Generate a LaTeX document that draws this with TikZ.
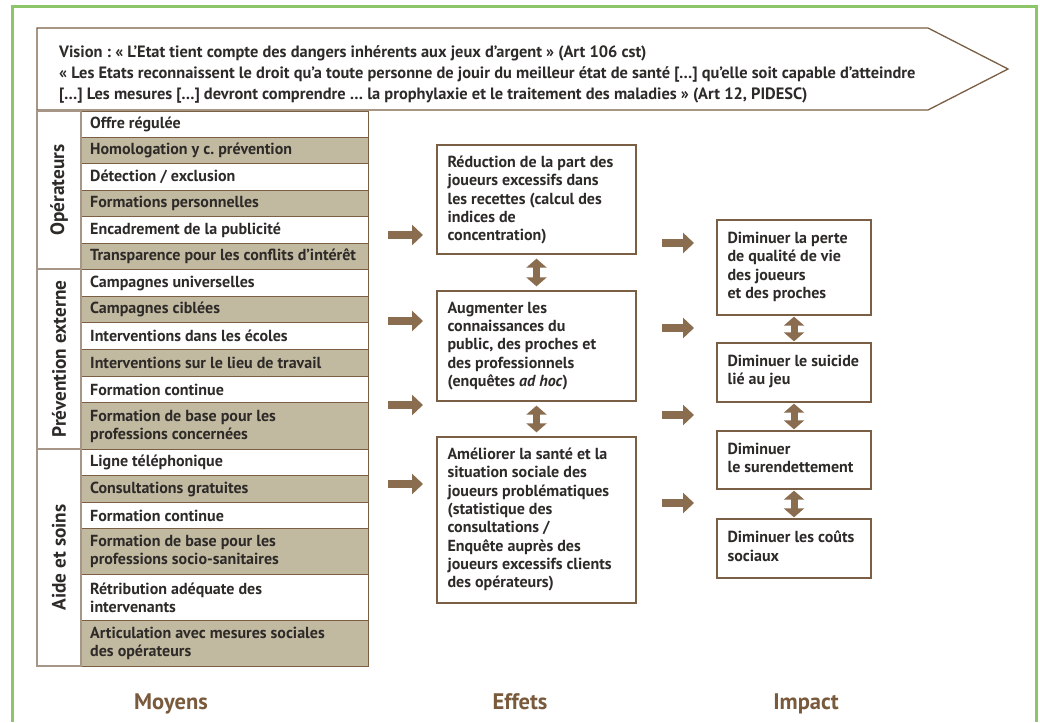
\documentclass[tikz,border=0pt]{standalone}
\usepackage{fontspec}
\setmainfont{PT Sans}
\frenchspacing
\usetikzlibrary{arrows.meta,calc}
\definecolor{brn}{RGB}{122,95,68}
\definecolor{arr}{RGB}{138,108,78}
\definecolor{shade}{RGB}{193,185,160}
\definecolor{txt}{RGB}{45,42,40}
\definecolor{grn}{RGB}{141,198,104}
\definecolor{lbl}{RGB}{122,90,60}
\definecolor{edge}{RGB}{165,150,135}
\tikzset{
  itembox/.style={draw=brn, line width=1.2pt, minimum width=287pt, inner sep=0pt, anchor=north west},
  itemtext/.style={anchor=west, inner sep=0pt, align=left, font=\bfseries\fontsize{16}{17.7}\selectfont},
  cat/.style={draw=edge, line width=1.2pt, fill=white, rotate=90, minimum height=44pt, inner sep=0pt, font=\bfseries\fontsize{19.3}{22}\selectfont},
  ebox/.style={draw=brn, line width=1.3pt, fill=white, inner sep=0pt},
  etext/.style={anchor=north west, inner sep=0pt, align=left, font=\bfseries\fontsize{16}{18.3}\selectfont},
  harr/.style={draw=arr, line width=7.5pt, -{Triangle[length=11pt,width=20pt]}},
  dbl/.style={draw=arr, line width=7pt, {Triangle[length=9pt,width=20pt]}-{Triangle[length=9pt,width=20pt]}},
  colhead/.style={text=lbl, anchor=base, inner sep=0pt, font=\bfseries\fontsize{22.5}{26}\selectfont}
}
\begin{document}
\begin{tikzpicture}[x=1pt,y=-1pt,text=txt]
\useasboundingbox (0,0) rectangle (1040,722);
\fill[white] (0,0) rectangle (1040,722);
% green frame
\draw[grn, line width=3pt] (12,722) -- (12,7) -- (1036,7) -- (1036,722);
% vision banner
\draw[brn, line width=1.3pt, fill=white] (37,28) -- (928,28) -- (1008,69) -- (928,110) -- (37,110) -- cycle;
\node[anchor=north west, inner sep=0pt, align=left, font=\bfseries\fontsize{16.4}{21}\selectfont] (vision) at (59,45.5)
 {Vision : « L’Etat tient compte des dangers inhérents aux jeux d’argent » (Art 106 cst)\\
  « Les Etats reconnaissent le droit qu’a toute personne de jouir du meilleur état de santé […] qu’elle soit capable d’atteindre\\
  {[…]} Les mesures […] devront comprendre … la prophylaxie et le traitement des maladies » (Art 12, PIDESC)};
% rows
\foreach \n/\t/\b/\f/\s in {
 r1/111/137/white/{Offre régulée},
 r2/137/163/shade/{Homologation y c. prévention},
 r3/163/190/white/{Détection / exclusion},
 r4/190/216/shade/{Formations personnelles},
 r5/216/243/white/{Encadrement de la publicité},
 r6/243/269/shade/{Transparence pour les conflits d’intérêt},
 r7/269/296/white/{Campagnes universelles},
 r8/296/322/shade/{Campagnes ciblées},
 r9/322/349/white/{Interventions dans les écoles},
 r10/349/376/shade/{Interventions sur le lieu de travail},
 r11/376/402/white/{Formation continue},
 r12/402/449/shade/{Formation de base pour les\\professions concernées},
 r13/449/475/white/{Ligne téléphonique},
 r14/475/502/shade/{Consultations gratuites},
 r15/502/528/white/{Formation continue},
 r16/528/574/shade/{Formation de base pour les\\professions socio-sanitaires},
 r17/574/620/white/{Rétribution adéquate des\\intervenants},
 r18/620/666/shade/{Articulation avec mesures sociales\\des opérateurs}}
{\node[itembox, fill=\f, minimum height={\b-\t}] (\n) at (81,\t) {};
 \node[itemtext] (\n t) at ([xshift=9pt]\n.west) {\s};}
% categories
\node[cat, minimum width=158pt] (c1) at (59,190) {Opérateurs};
\node[cat, minimum width=180pt] (c2) at (59,359) {Prévention externe};
\node[cat, minimum width=217pt] (c3) at (59,557.5) {Aide et soins};
% effect boxes
\node[ebox, minimum width=199pt, minimum height=109pt] (e1) at (536.5,199.5) {};
\node[ebox, minimum width=199pt, minimum height=110pt] (e2) at (536.5,346) {};
\node[ebox, minimum width=199pt, minimum height=166pt] (e3) at (536.5,520) {};
\node[etext] (e1t) at ([xshift=11pt,yshift=-11.5pt]e1.north west) {Réduction de la part des\\joueurs excessifs dans\\les recettes (calcul des\\indices de\\concentration)};
\node[etext] (e2t) at ([xshift=11pt,yshift=-11.5pt]e2.north west) {Augmenter les\\connaissances du\\public, des proches et\\des professionnels\\(enquêtes \textit{ad hoc})};
\node[etext] (e3t) at ([xshift=11pt,yshift=-11.5pt]e3.north west) {Améliorer la santé et la\\situation sociale des\\joueurs problématiques\\(statistique des\\consultations /\\Enquête auprès des\\joueurs excessifs clients\\des opérateurs)};
% impact boxes
\node[ebox, minimum width=154pt, minimum height=95pt] (i1) at (794,267.5) {};
\node[ebox, minimum width=154pt, minimum height=59pt] (i2) at (794,372.5) {};
\node[ebox, minimum width=154pt, minimum height=58pt] (i3) at (794,460) {};
\node[ebox, minimum width=154pt, minimum height=59pt] (i4) at (794,548.5) {};
\node[etext] (i1t) at ([xshift=11pt,yshift=-12.5pt]i1.north west) {Diminuer la perte\\de qualité de vie\\des joueurs\\et des proches};
\node[etext] (i2t) at ([xshift=11pt,yshift=-12.5pt]i2.north west) {Diminuer le suicide\\lié au jeu};
\node[etext] (i3t) at ([xshift=11pt,yshift=-12.5pt]i3.north west) {Diminuer\\le surendettement};
\node[etext] (i4t) at ([xshift=11pt,yshift=-12.5pt]i4.north west) {Diminuer les coûts\\sociaux};
% double arrows
\draw[dbl] ([yshift=-4pt]e1.south) -- ([yshift=4pt]e2.north);
\draw[dbl] ([yshift=-4pt]e2.south) -- ([yshift=4pt]e3.north);
\draw[dbl] ([yshift=-1pt]i1.south) -- ([yshift=1pt]i2.north);
\draw[dbl] ([yshift=-1pt]i2.south) -- ([yshift=1pt]i3.north);
\draw[dbl] ([yshift=-1pt]i3.south) -- ([yshift=1pt]i4.north);
% left arrows
\foreach \k/\y in {1/235,2/321,3/405,4/484}{
  \coordinate (la\k s) at (388,\y);
  \coordinate (la\k e) at (423,\y);
  \draw[harr] (la\k s) -- (la\k e);
}
% right arrows
\foreach \k/\y in {1/243,2/328,3/415,4/503}{
  \coordinate (ra\k s) at (662,\y);
  \coordinate (ra\k e) at (694,\y);
  \draw[harr] (ra\k s) -- (ra\k e);
}
% column headings
\node[colhead] (moyens) at (171,709) {Moyens};
\node[colhead] (effets) at (520,709) {Effets};
\node[colhead] (impact) at (806,709) {Impact};
\end{tikzpicture}
\end{document}
